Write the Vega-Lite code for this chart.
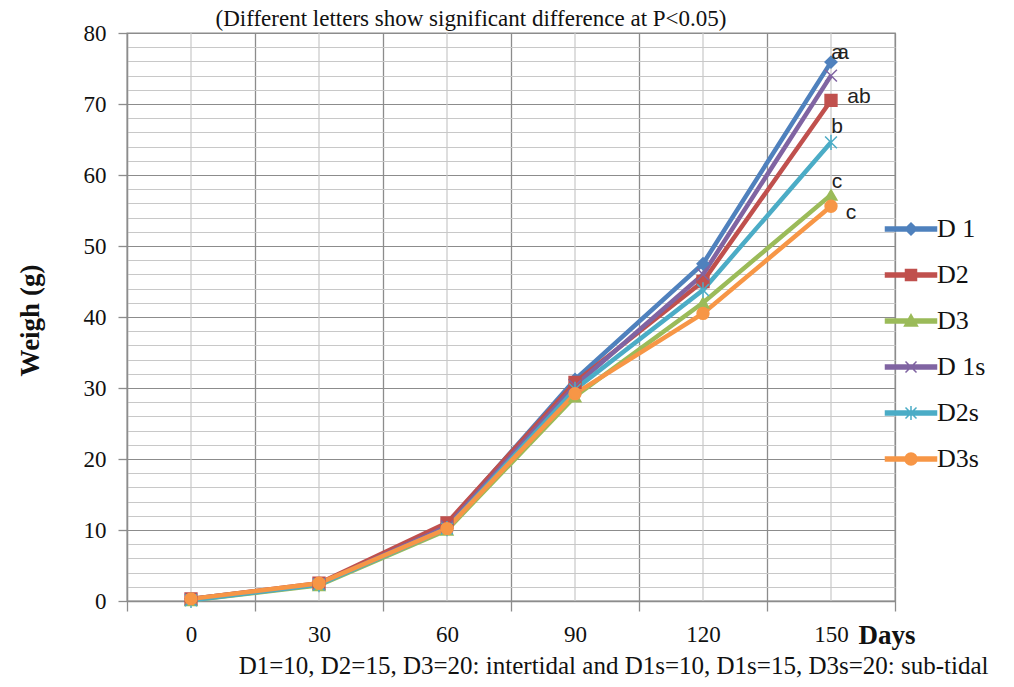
{
  "$schema": "https://vega.github.io/schema/vega-lite/v6.json",
  "width": 768,
  "height": 568,
  "autosize": {"type": "none"},
  "padding": {"left": 127, "top": 33, "right": 119, "bottom": 86},
  "background": "white",
  "title": {
    "text": "(Different letters show significant difference at P<0.05)",
    "font": "Liberation Serif", "fontSize": 23, "fontWeight": "normal", "color": "#111",
    "anchor": "middle", "frame": "group", "dx": -40, "offset": -27, "baseline": "alphabetic"
  },
  "config": {
    "view": {"stroke": "#8c8c8c", "strokeWidth": 1.3}
  },
  "datasets": {
    "w": [
      {"series": "D 1", "day": 0, "v": 0.3}, {"series": "D 1", "day": 30, "v": 2.4}, {"series": "D 1", "day": 60, "v": 10.8}, {"series": "D 1", "day": 90, "v": 31.2}, {"series": "D 1", "day": 120, "v": 47.5}, {"series": "D 1", "day": 150, "v": 75.9},
      {"series": "D2", "day": 0, "v": 0.3}, {"series": "D2", "day": 30, "v": 2.5}, {"series": "D2", "day": 60, "v": 11.0}, {"series": "D2", "day": 90, "v": 30.8}, {"series": "D2", "day": 120, "v": 45.0}, {"series": "D2", "day": 150, "v": 70.5},
      {"series": "D3", "day": 0, "v": 0.1}, {"series": "D3", "day": 30, "v": 2.2}, {"series": "D3", "day": 60, "v": 10.0}, {"series": "D3", "day": 90, "v": 28.8}, {"series": "D3", "day": 120, "v": 42.0}, {"series": "D3", "day": 150, "v": 57.2},
      {"series": "D 1s", "day": 0, "v": 0.2}, {"series": "D 1s", "day": 30, "v": 2.4}, {"series": "D 1s", "day": 60, "v": 10.5}, {"series": "D 1s", "day": 90, "v": 30.3}, {"series": "D 1s", "day": 120, "v": 46.0}, {"series": "D 1s", "day": 150, "v": 74.0},
      {"series": "D2s", "day": 0, "v": 0.1}, {"series": "D2s", "day": 30, "v": 2.3}, {"series": "D2s", "day": 60, "v": 10.2}, {"series": "D2s", "day": 90, "v": 29.8}, {"series": "D2s", "day": 120, "v": 43.8}, {"series": "D2s", "day": 150, "v": 64.6},
      {"series": "D3s", "day": 0, "v": 0.3}, {"series": "D3s", "day": 30, "v": 2.5}, {"series": "D3s", "day": 60, "v": 10.2}, {"series": "D3s", "day": 90, "v": 29.2}, {"series": "D3s", "day": 120, "v": 40.5}, {"series": "D3s", "day": 150, "v": 55.6}
    ],
    "days": [{"day": 0}, {"day": 30}, {"day": 60}, {"day": 90}, {"day": 120}, {"day": 150}]
  },
  "layer": [
    {
      "layer": [
        {
          "data": {"name": "days"},
          "mark": {"type": "rule", "color": "#c8c8c8", "strokeWidth": 1.2},
          "encoding": {
            "x": {
              "field": "day", "type": "ordinal",
              "scale": {"type": "band", "paddingInner": 0, "paddingOuter": 0},
              "axis": {
                "tickBand": "extent", "grid": true, "gridColor": "#8c8c8c", "gridWidth": 1.3,
                "tickColor": "#8c8c8c", "tickWidth": 1.3, "tickSize": 10,
                "domainColor": "#8c8c8c", "domainWidth": 1.3, "labelOverlap": false,
                "labelAngle": 0, "labelFont": "Liberation Serif", "labelFontSize": 23, "labelColor": "#111", "labelPadding": 12,
                "title": "D1=10, D2=15, D3=20: intertidal and D1s=10, D1s=15, D3s=20: sub-tidal",
                "titleFont": "Liberation Serif", "titleFontSize": 25, "titleFontWeight": "normal", "titleColor": "#111",
                "titleX": 861, "titleY": 72, "titleAlign": "right", "titleAnchor": null, "titleBaseline": "alphabetic"
              }
            }
          }
        },
        {
          "data": {"name": "w"},
          "mark": {"type": "line", "strokeWidth": 4.5},
          "encoding": {
            "x": {"field": "day", "type": "ordinal"},
            "y": {
              "field": "v", "type": "quantitative",
              "scale": {"domain": [0, 80], "nice": false},
              "axis": {
                "values": [0, 2, 4, 6, 8, 10, 12, 14, 16, 18, 20, 22, 24, 26, 28, 30, 32, 34, 36, 38, 40, 42, 44, 46, 48, 50, 52, 54, 56, 58, 60, 62, 64, 66, 68, 70, 72, 74, 76, 78, 80],
                "tickCount": 100,
                "labelExpr": "datum.value % 10 === 0 ? datum.label : ''",
                "labelOverlap": false,
                "grid": true,
                "gridColor": {"condition": {"test": "datum.value % 10 === 0", "value": "#8c8c8c"}, "value": "#c8c8c8"},
                "gridWidth": 1.2,
                "tickOpacity": {"condition": {"test": "datum.value % 10 === 0", "value": 1}, "value": 0},
                "tickColor": "#8c8c8c", "tickWidth": 1.3, "tickSize": 9,
                "domainColor": "#8c8c8c", "domainWidth": 1.3,
                "labelFont": "Liberation Serif", "labelFontSize": 23, "labelColor": "#111", "labelPadding": 12,
                "title": "Weigh (g)", "titleFont": "Liberation Serif", "titleFontSize": 27, "titleFontWeight": "bold", "titleColor": "#111",
                "titleX": -97, "titleY": 287, "titleAngle": -90, "titleAlign": "center", "titleBaseline": "middle", "titleAnchor": null
              }
            },
            "stroke": {
              "field": "series", "type": "nominal",
              "scale": {"domain": ["D 1", "D2", "D3", "D 1s", "D2s", "D3s"], "range": ["#4F81BD", "#C0504D", "#9BBB59", "#8064A2", "#4BACC6", "#F79646"]},
              "legend": null
            }
          }
        },
        {
          "data": {"name": "w"},
          "mark": {"type": "point", "filled": true, "size": 140, "strokeWidth": 1.5, "opacity": 1},
          "encoding": {
            "x": {"field": "day", "type": "ordinal"},
            "y": {"field": "v", "type": "quantitative"},
            "fill": {
              "field": "series", "type": "nominal",
              "scale": {"domain": ["D 1", "D2", "D3", "D 1s", "D2s", "D3s"], "range": ["#4F81BD", "#C0504D", "#9BBB59", "#8064A2", "#4BACC6", "#F79646"]},
              "legend": null
            },
            "stroke": {"field": "series", "type": "nominal", "legend": null},
            "shape": {
              "field": "series", "type": "nominal",
              "scale": {"domain": ["D 1", "D2", "D3", "D 1s", "D2s", "D3s"], "range": ["diamond", "square", "triangle-up", "M-1,-1L1,1M-1,1L1,-1", "M-1,-1L1,1M-1,1L1,-1M0,-1.3L0,1.3", "circle"]},
              "legend": null
            }
          }
        },
        {
          "data": {"values": [{"day": 150, "v": 77.2, "lab": "a"}, {"day": 150, "v": 66.8, "lab": "b"}, {"day": 150, "v": 59.0, "lab": "c"}]},
          "mark": {"type": "text", "dx": 6, "font": "Liberation Sans", "fontSize": 21, "color": "#222", "baseline": "middle", "align": "center"},
          "encoding": {"x": {"field": "day", "type": "ordinal"}, "y": {"field": "v", "type": "quantitative"}, "text": {"field": "lab"}}
        },
        {
          "data": {"values": [{"day": 150, "v": 77.2, "lab": "a"}]},
          "mark": {"type": "text", "dx": 12, "font": "Liberation Sans", "fontSize": 21, "color": "#222", "baseline": "middle", "align": "center"},
          "encoding": {"x": {"field": "day", "type": "ordinal"}, "y": {"field": "v", "type": "quantitative"}, "text": {"field": "lab"}}
        },
        {
          "data": {"values": [{"day": 150, "v": 71.0, "lab": "ab"}]},
          "mark": {"type": "text", "dx": 28, "font": "Liberation Sans", "fontSize": 21, "color": "#222", "baseline": "middle", "align": "center"},
          "encoding": {"x": {"field": "day", "type": "ordinal"}, "y": {"field": "v", "type": "quantitative"}, "text": {"field": "lab"}}
        },
        {
          "data": {"values": [{"day": 150, "v": 54.6, "lab": "c"}]},
          "mark": {"type": "text", "dx": 20, "font": "Liberation Sans", "fontSize": 21, "color": "#222", "baseline": "middle", "align": "center"},
          "encoding": {"x": {"field": "day", "type": "ordinal"}, "y": {"field": "v", "type": "quantitative"}, "text": {"field": "lab"}}
        }
      ]
    },
    {
      "data": {"values": [{"series": "D 1", "v": 0}]},
      "transform": [{"filter": "false"}],
      "mark": {"type": "point", "filled": true, "strokeWidth": 1.5, "opacity": 1},
      "encoding": {
        "y": {
          "field": "v", "type": "quantitative",
          "scale": {"domain": [0, 80], "nice": false},
          "axis": {
            "orient": "right", "labels": false, "ticks": false, "domain": false, "grid": false,
            "title": "Days", "titleFont": "Liberation Serif", "titleFontSize": 27, "titleFontWeight": "bold", "titleColor": "#111",
            "titleAngle": 0, "titleX": -37, "titleY": 610, "titleAlign": "left", "titleBaseline": "alphabetic", "titleAnchor": null
          }
        },
        "fill": {
          "field": "series", "type": "nominal",
          "scale": {"domain": ["D 1", "D2", "D3", "D 1s", "D2s", "D3s"], "range": ["#4F81BD", "#C0504D", "#9BBB59", "#8064A2", "#4BACC6", "#F79646"]},
          "legend": {"title": null, "orient": "none", "legendX": 771, "legendY": 183, "labelFont": "Liberation Serif", "labelFontSize": 26, "labelColor": "#111", "labelOffset": 13, "symbolSize": 100, "symbolStrokeWidth": 1.5, "rowPadding": 20, "padding": 0, "symbolOpacity": 1}
        },
        "stroke": {
          "field": "series", "type": "nominal",
          "scale": {"domain": ["D 1", "D2", "D3", "D 1s", "D2s", "D3s"], "range": ["#4F81BD", "#C0504D", "#9BBB59", "#8064A2", "#4BACC6", "#F79646"]},
          "legend": {"title": null, "orient": "none", "legendX": 771, "legendY": 183, "labelFont": "Liberation Serif", "labelFontSize": 26, "labelColor": "#111", "labelOffset": 13, "symbolSize": 100, "symbolStrokeWidth": 1.5, "rowPadding": 20, "padding": 0, "symbolOpacity": 1}
        },
        "shape": {
          "field": "series", "type": "nominal",
          "scale": {
            "domain": ["D 1", "D2", "D3", "D 1s", "D2s", "D3s"],
            "range": [
              "M-5.1,-0.4L5.1,-0.4L5.1,0.4L-5.1,0.4ZM0,-1.2L1.2,0L0,1.2L-1.2,0Z",
              "M-5.1,-0.4L5.1,-0.4L5.1,0.4L-5.1,0.4ZM-1.1,-1.1L1.1,-1.1L1.1,1.1L-1.1,1.1Z",
              "M-5.1,-0.4L5.1,-0.4L5.1,0.4L-5.1,0.4ZM0,-1.3L1.3,1L-1.3,1Z",
              "M-5.1,-0.4L5.1,-0.4L5.1,0.4L-5.1,0.4ZM-1.1,-1.1L1.1,1.1M-1.1,1.1L1.1,-1.1",
              "M-5.1,-0.4L5.1,-0.4L5.1,0.4L-5.1,0.4ZM-1.1,-1.1L1.1,1.1M-1.1,1.1L1.1,-1.1M0,-1.4L0,1.4",
              "M-5.1,-0.4L5.1,-0.4L5.1,0.4L-5.1,0.4ZM-1.2,0A1.2,1.2 0 1,1 1.2,0A1.2,1.2 0 1,1 -1.2,0Z"
            ]
          },
          "legend": {"title": null, "orient": "none", "legendX": 771, "legendY": 183, "labelFont": "Liberation Serif", "labelFontSize": 26, "labelColor": "#111", "labelOffset": 13, "symbolSize": 100, "symbolStrokeWidth": 1.5, "rowPadding": 20, "padding": 0, "symbolOpacity": 1}
        }
      }
    }
  ],
  "resolve": {"scale": {"y": "independent", "fill": "independent", "stroke": "independent", "shape": "independent"}}
}
